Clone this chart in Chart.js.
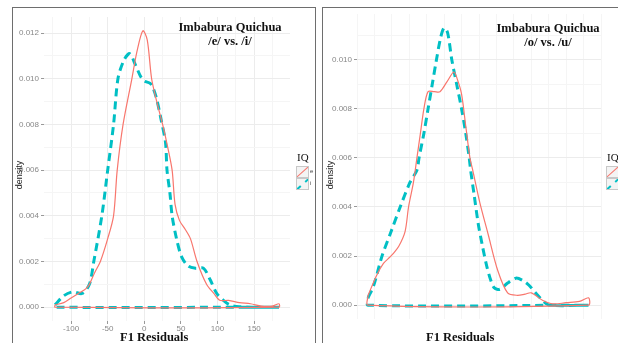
<!DOCTYPE html>
<html>
<head>
<meta charset="utf-8">
<script src="https://cdn.jsdelivr.net/npm/chart.js@4/dist/chart.umd.min.js"></script>
<style>
  body { margin: 0; width: 618px; height: 343px; background: #fff; overflow: hidden; position: relative; }
  .panel { position: absolute; border: 1.5px solid #6e6e6e; }
  canvas { position: absolute; top: 0; }
  .title { position: absolute; font-family: 'Liberation Serif', serif; font-weight: bold; font-size: 12.5px; color: #111; text-align: center; line-height: 14px; white-space: nowrap; }
  .xtitle { position: absolute; font-family: 'Liberation Serif', serif; font-weight: bold; font-size: 12.5px; color: #111; white-space: nowrap; line-height: 14px; }
  .ytitle { position: absolute; font-family: 'Liberation Sans', sans-serif; font-size: 9px; color: #222; transform: rotate(-90deg); transform-origin: center; white-space: nowrap; }
  .lgtitle { position: absolute; font-family: 'Liberation Serif', serif; font-size: 11px; color: #111; }
  .key { position: absolute; width: 11px; height: 10px; border: 1px solid #c8c8c8; overflow: hidden; background: #f4f4f4; }
  .key .ln { position: absolute; left: -3px; top: 4px; width: 18px; transform: rotate(-42deg); }
  .lglabel { position: absolute; font-family: 'Liberation Sans', sans-serif; font-size: 6px; color: #444; }
</style>
</head>
<body>
<div class="panel" style="left:12px; top:7px; width:302px; height:345px;"></div>
<div class="panel" style="left:322px; top:7px; width:310px; height:345px;"></div>

<canvas id="leftChart" width="316" height="343" style="left:0;"></canvas>
<canvas id="rightChart" width="302" height="343" style="left:316px;"></canvas>

<div class="title" style="left:170px; top:20px; width:120px;">Imbabura Quichua<br>/e/ vs. /i/</div>
<div class="title" style="left:488px; top:21px; width:120px;">Imbabura Quichua<br>/o/ vs. /u/</div>
<div class="xtitle" style="left:120px; top:330px;">F1 Residuals</div>
<div class="xtitle" style="left:426px; top:330px;">F1 Residuals</div>
<div class="ytitle" style="left:5px; top:170px;">density</div>
<div class="ytitle" style="left:316px; top:170px;">density</div>

<div class="lgtitle" style="left:297px; top:151px;">IQ</div>
<div class="key" style="left:296px; top:166px;"><div class="ln" style="border-top:1px solid #F8766D;"></div></div>
<div class="key" style="left:296px; top:178px;"><div class="ln" style="border-top:2.5px dashed #00BFC4;"></div></div>
<div class="lglabel" style="left:310px; top:168px;">e</div>
<div class="lglabel" style="left:310px; top:180px;">i</div>

<div class="lgtitle" style="left:607px; top:151px;">IQ</div>
<div class="key" style="left:606px; top:166px;"><div class="ln" style="border-top:1px solid #F8766D;"></div></div>
<div class="key" style="left:606px; top:178px;"><div class="ln" style="border-top:2.5px dashed #00BFC4;"></div></div>

<script>
// /e/ vs /i/ densities (F1 residuals)
const eX = [-122, -110, -100, -90, -80, -75, -68, -60, -50, -42, -37, -29, -17, -10, -2, 4, 10, 17, 25, 32, 38, 42, 48, 56, 63, 72, 85, 95, 103, 115, 130, 145, 160, 175, 184];
const eY = [0.0001, 0.0002, 0.0004, 0.0006, 0.0008, 0.001, 0.0015, 0.002, 0.003, 0.004, 0.006, 0.008, 0.010, 0.0112, 0.0121, 0.0117, 0.010, 0.009, 0.008, 0.007, 0.006, 0.0045, 0.0038, 0.0034, 0.003, 0.002, 0.001, 0.0006, 0.0003, 0.0003, 0.0002, 0.00015, 0.00005, 0.00005, 0.00015];
const iX = [-122, -110, -98, -85, -75, -69, -58, -50, -42, -36, -28, -20, -12, -5, 0, 8, 12, 17, 23, 29, 31, 35, 38, 44, 51, 60, 70, 81, 90, 99, 108, 117, 130, 150, 184];
const iY = [0.0001, 0.0005, 0.00067, 0.0006, 0.001, 0.002, 0.004, 0.006, 0.008, 0.010, 0.0108, 0.0111, 0.0106, 0.0101, 0.0099, 0.0098, 0.0096, 0.0091, 0.0082, 0.0072, 0.006, 0.005, 0.004, 0.003, 0.0022, 0.0018, 0.0017, 0.0017, 0.0012, 0.0006, 0.0003, 0.0001, 0.00002, 0, 0];

// /o/ vs /u/ densities
const oX = [-110, -98, -88, -79, -74, -66, -57, -52, -45, -40, -35, -30, -24, -15, -7, 3, 13, 18, 24, 30, 36, 40, 50, 62, 76, 90, 104, 115, 124, 140, 155, 174, 193, 206];
const oY = [0.0004, 0.0012, 0.0017, 0.00195, 0.0021, 0.0024, 0.003, 0.004, 0.005, 0.006, 0.007, 0.008, 0.0087, 0.0087, 0.0087, 0.0091, 0.0095, 0.0092, 0.0086, 0.0073, 0.006, 0.0055, 0.0042, 0.0029, 0.0014, 0.0005, 0.0004, 0.00045, 0.0005, 0.0002, 0.00005, 0.0001, 0.00015, 0.0003];
const uX = [-110, -102, -90, -77, -64, -50, -40, -37, -30, -24, -18, -12, -6, -1, 4, 10, 17, 24, 30, 35, 37, 42, 48, 54, 60, 66, 71, 79, 90, 102, 112, 121, 130, 140, 150, 206];
const uY = [0.0003, 0.0008, 0.002, 0.003, 0.004, 0.005, 0.0055, 0.006, 0.007, 0.008, 0.009, 0.010, 0.0109, 0.0113, 0.0111, 0.010, 0.009, 0.008, 0.007, 0.006, 0.0055, 0.0045, 0.0033, 0.0024, 0.0016, 0.001, 0.0007, 0.00065, 0.0009, 0.0011, 0.001, 0.0008, 0.0005, 0.0002, 0, 0];

const RED = '#F8766D';
const CYAN = '#00BFC4';

// density outline drawn as a closed polygon, like geom_density
function outline(xs, ys) {
    const pts = xs.map((x, k) => ({ x: x, y: ys[k] }));
    pts.push({ x: xs[xs.length - 1], y: 0 });
    pts.push({ x: xs[0], y: 0 });
    pts.push({ x: xs[0], y: ys[0] });
    return pts;
}

const isMajorX = v => Math.round(v) % 50 === 0;
const isMajorY = v => Math.round(v * 1000) % 2 === 0;

function makeChart(id, redPts, cyanPts, box) {
    return new Chart(document.getElementById(id), {
        type: 'scatter',
        data: {
            datasets: [
                { data: redPts, showLine: true, borderColor: RED, borderWidth: 1.2, pointRadius: 0, tension: 0.3, fill: false },
                { data: cyanPts, showLine: true, borderColor: CYAN, borderWidth: 3, borderDash: [8, 5], pointRadius: 0, tension: 0.3, fill: false }
            ]
        },
        options: {
            responsive: false,
            animation: false,
            layout: { padding: { top: box.top, right: box.right, left: 0, bottom: 0 } },
            plugins: { legend: { display: false }, tooltip: { enabled: false } },
            scales: {
                x: {
                    type: 'linear', min: box.xmin, max: box.xmax,
                    afterFit: s => { s.height = box.xh; },
                    border: { display: false },
                    grid: {
                        color: c => isMajorX(c.tick.value) ? '#ececec' : '#f5f5f5',
                        tickColor: c => isMajorX(c.tick.value) ? '#999' : 'rgba(0,0,0,0)',
                        tickLength: 3
                    },
                    ticks: {
                        stepSize: 25, includeBounds: false, autoSkip: false, maxRotation: 0, padding: 0,
                        color: '#888', font: { family: 'Liberation Sans', size: 8 },
                        callback: v => isMajorX(v) ? String(v) : ''
                    }
                },
                y: {
                    type: 'linear', min: box.ymin, max: box.ymax,
                    afterFit: s => { s.width = box.yw; },
                    border: { display: false },
                    grid: {
                        color: c => isMajorY(c.tick.value) ? '#ececec' : '#f5f5f5',
                        tickColor: c => isMajorY(c.tick.value) ? '#999' : 'rgba(0,0,0,0)',
                        tickLength: 3
                    },
                    ticks: {
                        stepSize: 0.001, includeBounds: false, autoSkip: false, padding: 2,
                        color: '#888', font: { family: 'Liberation Sans', size: 8 },
                        callback: v => isMajorY(v) ? v.toFixed(3) : ''
                    }
                }
            }
        }
    });
}

makeChart('leftChart', outline(eX, eY), outline(iX, iY),
    { xmin: -137, xmax: 199, ymin: -0.000605, ymax: 0.012705, top: 17, right: 26, yw: 44, xh: 22 });
makeChart('rightChart', outline(oX, oY), outline(uX, uY),
    { xmin: -125.9, xmax: 223.9, ymin: -0.000565, ymax: 0.011865, top: 14, right: 17, yw: 41, xh: 24 });
</script>
</body>
</html>
